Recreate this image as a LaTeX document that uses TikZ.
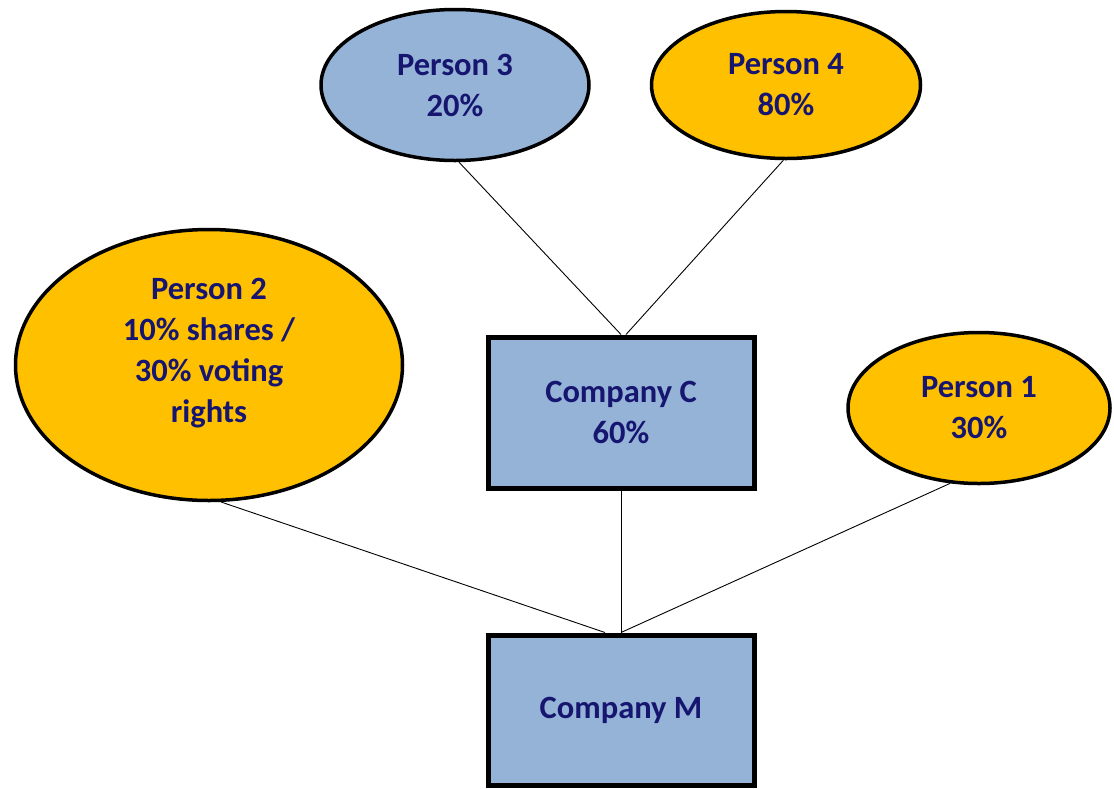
\documentclass[tikz,border=0pt]{standalone}
\usepackage{fontspec}
\setmainfont{Carlito}
\usetikzlibrary{shapes.geometric}
\definecolor{boxblue}{HTML}{95B3D7}
\definecolor{gold}{HTML}{FFC000}
\definecolor{inkblue}{RGB}{22,22,112}
\tikzset{
  label text/.style={align=center, font=\bfseries\fontsize{32.5}{41}\selectfont, text=inkblue},
  person/.style={ellipse, draw=black, line width=3.5pt, inner sep=0pt, label text},
  company/.style={rectangle, draw=black, line width=5pt, inner sep=0pt,
    fill=boxblue, label text},
  link/.style={draw=black, line width=0.9pt}
}
\begin{document}
\begin{tikzpicture}[x=1pt,y=-1pt]
\useasboundingbox (0,0) rectangle (1114,788);
% owners
\node[person, fill=boxblue, minimum width=268pt, minimum height=151pt] (p3) at (455,85) {Person 3\\20\%};
\node[person, fill=gold, minimum width=269pt, minimum height=147pt] (p4) at (786,85) {Person 4\\80\%};
\node[person, fill=gold, minimum width=387pt, minimum height=271pt, text depth=30pt] (p2) at (209,365) {Person 2\\10\% shares /\\30\% voting\\rights};
\node[person, fill=gold, minimum width=262pt, minimum height=151pt] (p1) at (979,408) {Person 1\\30\%};
% companies
\node[company, minimum width=266pt, minimum height=151pt] (cc) at (621,412.5) {Company C\\60\%};
\node[company, minimum width=266pt, minimum height=150pt] (cm) at (621,710) {Company M};
% holdings
\coordinate (cmleft) at ([xshift=-16pt]cm.north);
\draw[link] (p3.-87) -- (cc.north);
\draw[link] (p4.-92) -- ([xshift=5pt]cc.north);
\draw[link] (cc.south) -- (cm.north);
\draw[link] (p2.-85) -- (cmleft);
\draw[link] (p1.-111) -- (cm.north);
\end{tikzpicture}
\end{document}
